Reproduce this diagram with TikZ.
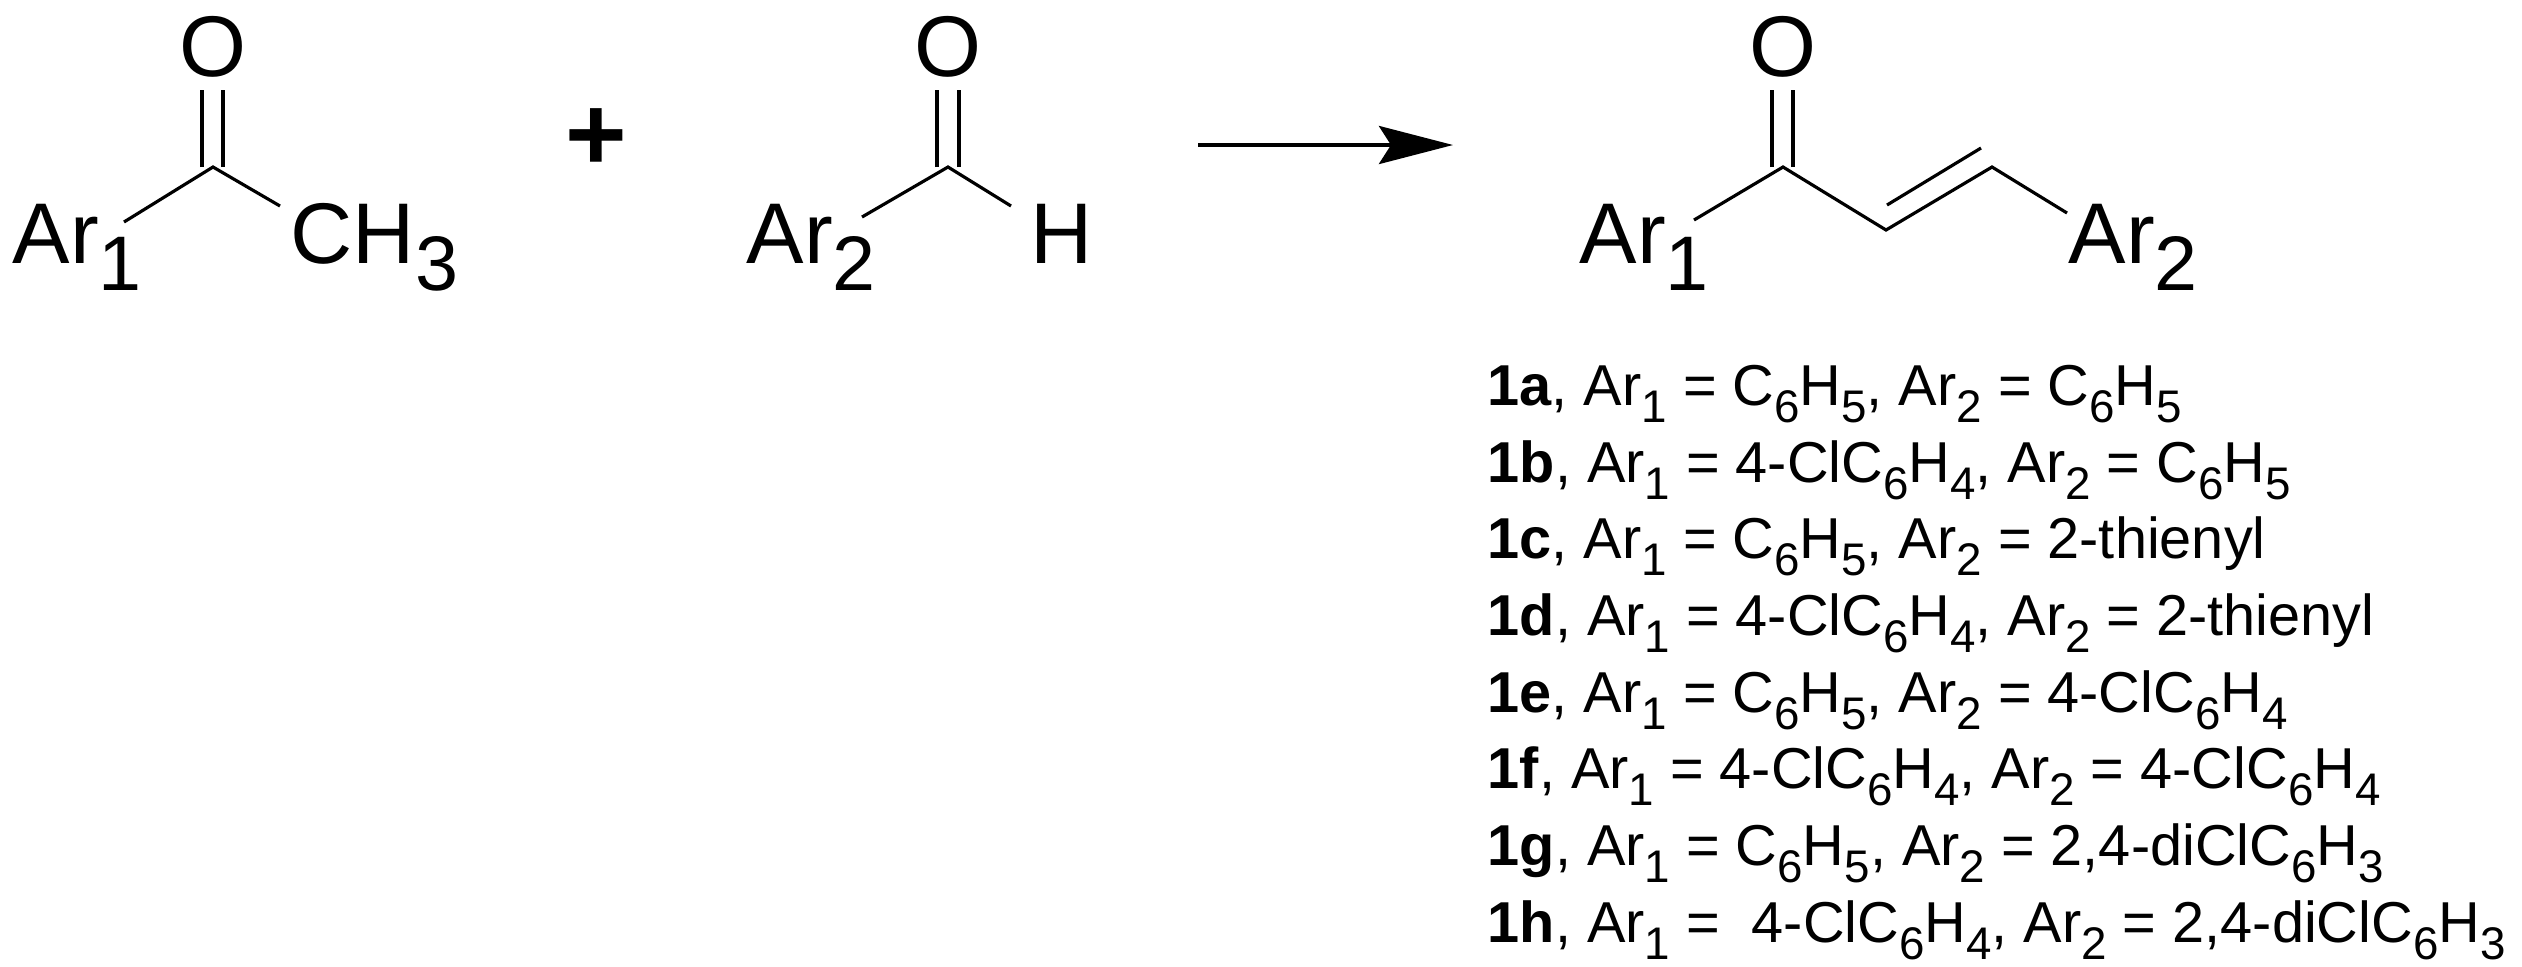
\documentclass[tikz,border=0pt]{standalone}
\usepackage{fontspec}
\setmainfont{Liberation Sans}
\usetikzlibrary{arrows.meta}
\newcommand\lo[1]{\raisebox{-0.3em}{\fontsize{13pt}{13pt}\selectfont #1}}
\newcommand\bigsub[1]{\raisebox{-0.32em}{\fontsize{22pt}{22pt}\selectfont #1}}
\tikzset{
  bond/.style={line width=0.9pt},
  atom/.style={inner sep=0pt, font=\fontsize{24.5pt}{24.5pt}\selectfont},
  item/.style={inner sep=0pt, anchor=base west, font=\fontsize{16.4pt}{16.4pt}\selectfont},
}
\begin{document}
\begin{tikzpicture}[x=0.01cm,y=-0.01cm]
\useasboundingbox (0,0) rectangle (2522,966);
% molecule 1
\node[atom] (o1) at (213,47) {O};
\node[atom,anchor=base west] (ar1a) at (12,263) {Ar\bigsub{1}};
\node[atom,anchor=base west] (ch3) at (290,263) {CH\bigsub{3}};
\coordinate (c1) at (213,167);
\coordinate (c1a) at (202,167); \coordinate (c1b) at (223,167);
\coordinate (o1a) at (202,90); \coordinate (o1b) at (223,90);
\coordinate (e1) at (124,222); \coordinate (e2) at (280,206);
\draw[bond] (c1a) -- (o1a) (c1b) -- (o1b);
\draw[bond] (e1) -- (c1) -- (e2);
% plus
\node[inner sep=0pt, font=\fontsize{30pt}{30pt}\selectfont\bfseries] (plus) at (596,140) {+};
% molecule 2
\node[atom] (o2) at (948,47) {O};
\node[atom,anchor=base west] (ar2a) at (746,263) {Ar\bigsub{2}};
\node[atom,anchor=base west] (h) at (1030,263) {H};
\coordinate (c2) at (948,167);
\coordinate (c2a) at (937,167); \coordinate (c2b) at (959,167);
\coordinate (o2a) at (937,90); \coordinate (o2b) at (959,90);
\coordinate (f1) at (862,217); \coordinate (f2) at (1011,206);
\draw[bond] (c2a) -- (o2a) (c2b) -- (o2b);
\draw[bond] (f1) -- (c2) -- (f2);
% arrow
\coordinate (as) at (1198,145); \coordinate (ae) at (1453,145);
\draw[line width=1.2pt, -{Stealth[length=7.4mm,width=3.8mm,inset=1.2mm]}] (as) -- (ae);
% product
\node[atom] (o3) at (1783,47) {O};
\node[atom,anchor=base west] (ar1p) at (1579,263) {Ar\bigsub{1}};
\node[atom,anchor=base west] (ar2p) at (2068,263) {Ar\bigsub{2}};
\coordinate (c3) at (1783,167);
\coordinate (c3a) at (1772,167); \coordinate (c3b) at (1793,167);
\coordinate (o3a) at (1772,90); \coordinate (o3b) at (1793,90);
\coordinate (g1) at (1694,220);
\coordinate (c4) at (1886,230);
\coordinate (c5) at (1992,167);
\coordinate (d1) at (1887,205); \coordinate (d2) at (1981,148);
\coordinate (g2) at (2067,213);
\draw[bond] (c3a) -- (o3a) (c3b) -- (o3b);
\draw[bond] (g1) -- (c3) -- (c4) -- (c5) -- (g2);
\draw[bond] (d1) -- (d2);
% list
\node[item] (l1) at (1487,405) {\textbf{1a}, Ar\lo{1} = C\lo{6}H\lo{5}, Ar\lo{2} = C\lo{6}H\lo{5}};
\node[item] (l2) at (1487,482) {\textbf{1b}, Ar\lo{1} = 4-ClC\lo{6}H\lo{4}, Ar\lo{2} = C\lo{6}H\lo{5}};
\node[item] (l3) at (1487,558) {\textbf{1c}, Ar\lo{1} = C\lo{6}H\lo{5}, Ar\lo{2} = 2-thienyl};
\node[item] (l4) at (1487,635) {\textbf{1d}, Ar\lo{1} = 4-ClC\lo{6}H\lo{4}, Ar\lo{2} = 2-thienyl};
\node[item] (l5) at (1487,712) {\textbf{1e}, Ar\lo{1} = C\lo{6}H\lo{5}, Ar\lo{2} = 4-ClC\lo{6}H\lo{4}};
\node[item] (l6) at (1487,788) {\textbf{1f}, Ar\lo{1} = 4-ClC\lo{6}H\lo{4}, Ar\lo{2} = 4-ClC\lo{6}H\lo{4}};
\node[item] (l7) at (1487,865) {\textbf{1g}, Ar\lo{1} = C\lo{6}H\lo{5}, Ar\lo{2} = 2,4-diClC\lo{6}H\lo{3}};
\node[item] (l8) at (1487,942) {\textbf{1h}, Ar\lo{1} = \ 4-ClC\lo{6}H\lo{4}, Ar\lo{2} = 2,4-diClC\lo{6}H\lo{3}};
\end{tikzpicture}
\end{document}
